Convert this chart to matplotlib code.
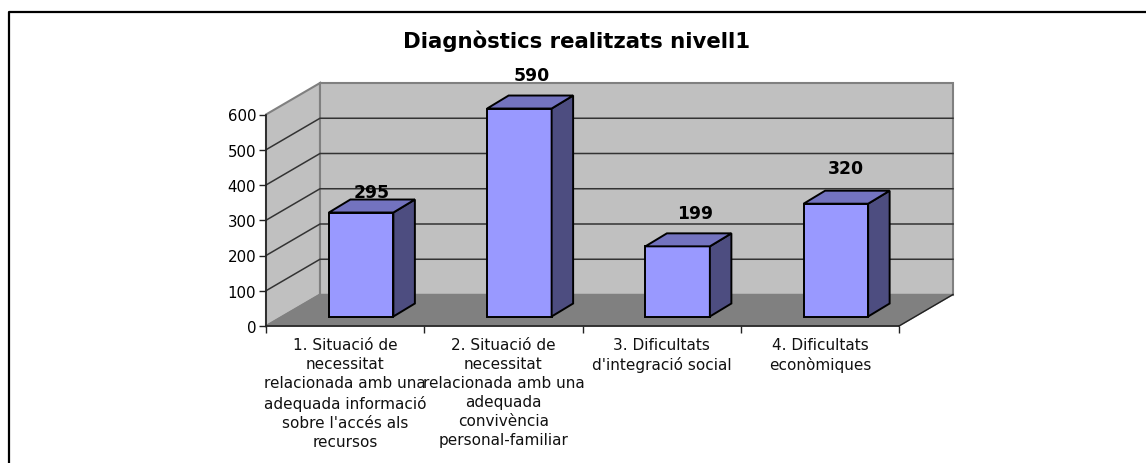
import matplotlib
matplotlib.use('Agg')
import matplotlib.pyplot as plt
from matplotlib.patches import Polygon
from matplotlib.lines import Line2D

plt.rcParams['font.family'] = ['DejaVu Sans']

categories = ["1. Situació de\nnecessitat\nrelacionada amb una\nadequada informació\nsobre l'accés als\nrecursos",
              "2. Situació de\nnecessitat\nrelacionada amb una\nadequada\nconvivència\npersonal-familiar",
              "3. Dificultats\nd'integració social",
              "4. Dificultats\neconòmiques"]
values = [295, 590, 199, 320]
yticks = [0, 100, 200, 300, 400, 500, 600]

W, H = 1146, 464
fig = plt.figure(figsize=(W / 100, H / 100), dpi=100)
ax = fig.add_axes([266 / W, 1 - 327 / H, 633 / W, 211.5 / H])
ax.set_xlim(0, 4)
ax.set_ylim(0, 600)
ax.patch.set_visible(False)

px = 4 / 633      # data units per pixel
py = 600 / 211.5
depth_x, depth_y = 54 * px, 31.5 * py    # depth of the box
bar_dx, bar_dy = 21.5 * px, 13 * py    # depth of a bar
shift_x, shift_y = 16 * px, 9.5 * py    # bars sit a bit behind the front plane
bar_w = 64.5 * px

wall = '#c0c0c0'
edge = '#808080'
# side wall, back wall, floor
ax.add_patch(Polygon([(0, 0), (depth_x, depth_y), (depth_x, 600 + depth_y), (0, 600)],
                     fc=wall, ec=edge, lw=1.5, clip_on=False, zorder=1))
ax.add_patch(Polygon([(depth_x, depth_y), (4 + depth_x, depth_y), (4 + depth_x, 600 + depth_y), (depth_x, 600 + depth_y)],
                     fc=wall, ec=edge, lw=1.5, clip_on=False, zorder=1))
ax.add_patch(Polygon([(0, 0), (4, 0), (4 + depth_x, depth_y), (depth_x, depth_y)],
                     fc=edge, ec=edge, lw=1, clip_on=False, zorder=2))
ax.plot([4, 4 + depth_x], [0, depth_y], color='#222222', lw=1, clip_on=False, zorder=2)

# gridlines go along the side wall and the back wall
for t in yticks[1:-1]:
    ax.plot([0, depth_x, 4 + depth_x], [t, t + depth_y, t + depth_y], color='#333333', lw=1.1,
            clip_on=False, zorder=3)

x = [i + 0.5 + shift_x for i in range(4)]
ax.bar(x, values, width=bar_w, bottom=shift_y, color='#9999ff', edgecolor='black', lw=1.4, zorder=5, clip_on=False)
for xi, v in zip(x, values):
    l, r = xi - bar_w / 2, xi + bar_w / 2
    top = v + shift_y
    ax.add_patch(Polygon([(r, shift_y), (r + bar_dx, shift_y + bar_dy), (r + bar_dx, top + bar_dy), (r, top)],
                         fc='#4d4d80', ec='black', lw=1.4, clip_on=False, zorder=5))
    ax.add_patch(Polygon([(l, top), (r, top), (r + bar_dx, top + bar_dy), (l + bar_dx, top + bar_dy)],
                         fc='#7373bf', ec='black', lw=1.4, clip_on=False, zorder=5))

# value labels, excel placed them by hand-ish so offset per bar (px)
label_dx = [11, 12, 17, 10]
label_dy = [21, 34, 33, 36]
for xi, v, dx, dy in zip(x, values, label_dx, label_dy):
    ax.text(xi + dx * px, v + shift_y + dy * py, str(v), ha='center', va='center',
            fontsize=12.4, fontweight='bold', color='black', zorder=6, clip_on=False)

for s in ['top', 'right']:
    ax.spines[s].set_visible(False)
for s in ['left', 'bottom']:
    ax.spines[s].set_color('#222222')
    ax.spines[s].set_linewidth(1.2)
    ax.spines[s].set_zorder(4)

ax.set_yticks(yticks)
ax.tick_params(axis='y', labelsize=10.8, length=5, width=1, pad=2, color='#222222')
ax.set_xticks(range(5))
ax.set_xticklabels([])
ax.tick_params(axis='x', length=5, width=1, color='#222222')
for i, c in enumerate(categories):
    ax.text(i + 0.5, -11 * py, c, ha='center', va='top', fontsize=11, linespacing=1.34, color='#111111', clip_on=False)

fig.text(576.5 / W, 1 - 41 / H, "Diagnòstics realitzats nivell1", ha='center', va='center',
         fontsize=15.3, fontweight='bold', color='black')

# frame of the chart, only left and top are in the picture
fig.add_artist(Line2D([8.5 / W, 8.5 / W, 1], [0, 1 - 13 / H, 1 - 13 / H],
                      color='black', lw=1.6, transform=fig.transFigure))

fig.savefig('out.png', dpi=100)
